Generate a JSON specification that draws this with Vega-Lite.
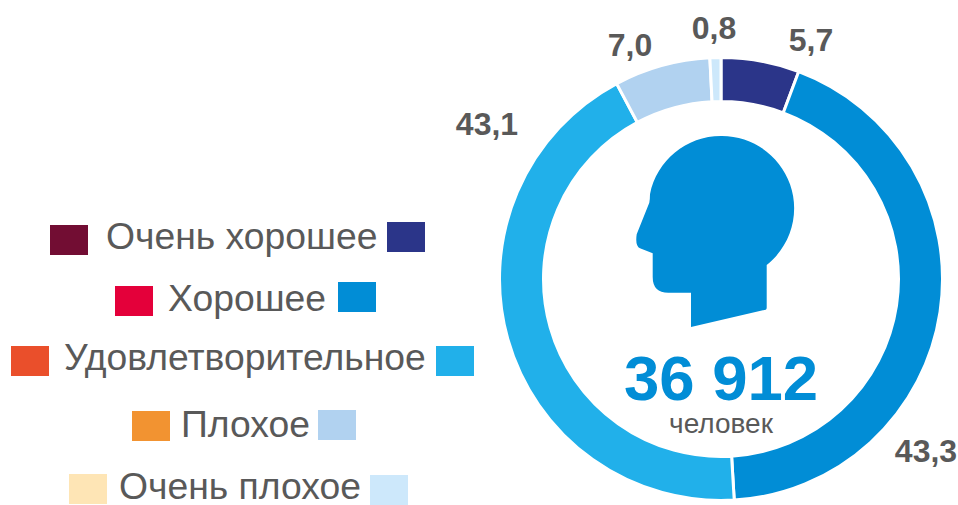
{
"$schema":"https://vega.github.io/schema/vega-lite/v6.json",
"padding":{"left":0,"right":0,"top":13,"bottom":0},
"background":"white",
"config":{"view":{"stroke":null},"font":"Liberation Sans"},
"spacing":0,
"bounds":"flush",
"datasets":{
"ratings":[
{"id":1,"label":"Очень хорошее","value":5.7,"valueText":"5,7"},
{"id":2,"label":"Хорошее","value":43.3,"valueText":"43,3"},
{"id":3,"label":"Удовлетворительное","value":43.1,"valueText":"43,1"},
{"id":4,"label":"Плохое","value":7.0,"valueText":"7,0"},
{"id":5,"label":"Очень плохое","value":0.8,"valueText":"0,8"}],
"total":[{"people":"36 912","unit":"человек"}]
},
"hconcat":[
{"width":484,"height":454,"data":{"name":"ratings"},
"resolve":{"scale":{"x":"independent","y":"independent","color":"independent"},"axis":{"x":"independent","y":"independent"}},
"layer":[
{"mark":{"type":"rect","width":38,"height":30},
"encoding":{
"x":{"field":"id","type":"quantitative","axis":null,"scale":{"domain":[1,2,3,4,5],"range":[69,134,30,151,88],"zero":false,"nice":false}},
"y":{"field":"id","type":"quantitative","axis":null,"scale":{"domain":[1,2,3,4,5],"range":[188,249,309,374,437],"zero":false,"nice":false}},
"color":{"field":"label","type":"nominal","legend":null,"sort":null,"scale":{"domain":["Очень хорошее","Хорошее","Удовлетворительное","Плохое","Очень плохое"],"range":["#720D33","#E4003A","#EA4F2B","#F29331","#FEE5B5"]}}}},
{"mark":{"type":"rect","width":38,"height":30},
"encoding":{
"x":{"field":"id","type":"quantitative","axis":null,"scale":{"domain":[1,2,3,4,5],"range":[406,357,455,337,389],"zero":false,"nice":false}},
"y":{"field":"id","type":"quantitative","axis":null,"scale":{"domain":[1,2,3,4,5],"range":[185,245,309,373,438],"zero":false,"nice":false}},
"color":{"field":"label","type":"nominal","legend":null,"sort":null,"scale":{"domain":["Очень хорошее","Хорошее","Удовлетворительное","Плохое","Очень плохое"],"range":["#2B3589","#018DD6","#21B0EA","#B1D2F0","#CDE8FB"]}}}},
{"mark":{"type":"text","align":"left","baseline":"middle","fontSize":37.3,"color":"#595959","font":"Liberation Sans"},
"encoding":{
"x":{"field":"id","type":"quantitative","axis":null,"scale":{"domain":[1,2,3,4,5],"range":[106,168,64,181,119],"zero":false,"nice":false}},
"y":{"field":"id","type":"quantitative","axis":null,"scale":{"domain":[1,2,3,4,5],"range":[186,248,307,374,436],"zero":false,"nice":false}},
"text":{"field":"label","type":"nominal"}}}
]},
{"width":474,"height":454,
"resolve":{"scale":{"x":"independent","y":"independent","color":"independent"},"axis":{"x":"independent","y":"independent"}},
"layer":[
{"data":{"name":"ratings"},
"mark":{"type":"arc","outerRadius":221.5,"innerRadius":177.5,"stroke":"white","strokeWidth":3},
"encoding":{
"theta":{"field":"value","type":"quantitative","stack":true,"scale":{"domain":[0,99.9]}},
"order":{"field":"id","type":"quantitative"},
"color":{"field":"label","type":"nominal","legend":null,"scale":{"domain":["Очень хорошее","Хорошее","Удовлетворительное","Плохое","Очень плохое"],"range":["#2B3589","#018DD6","#21B0EA","#B1D2F0","#CDE8FB"]}}}},
{"data":{"name":"ratings"},
"mark":{"type":"text","align":"center","baseline":"middle","fontSize":32,"fontWeight":"bold","color":"#595959","font":"Liberation Sans"},
"encoding":{
"x":{"field":"id","type":"quantitative","axis":null,"scale":{"domain":[1,2,3,4,5],"range":[327,442,3,146,230],"zero":false,"nice":false}},
"y":{"field":"id","type":"quantitative","axis":null,"scale":{"domain":[1,2,3,4,5],"range":[-11,400,73,-6,-23],"zero":false,"nice":false}},
"text":{"field":"valueText","type":"nominal"}}},
{"data":{"name":"total"},
"mark":{"type":"point","filled":true,"opacity":1,"size":40000,"strokeWidth":0,"color":"#018DD6",
"shape":"M0.0067,-1.43 A0.723,0.723 0 0 1 0.457,-0.14 L0.457,0.287 Q0.457,0.30 0.447,0.307 L-0.30,0.48 L-0.30,0.137 L-0.527,0.137 Q-0.683,0.137 -0.683,-0.02 L-0.683,-0.257 L-0.81,-0.307 Q-0.86,-0.33 -0.843,-0.447 L-0.717,-0.763 Q-0.71,-0.8 -0.71,-0.847 A0.723,0.723 0 0 1 0.0067,-1.43 Z"},
"encoding":{}},
{"data":{"name":"total"},
"mark":{"type":"text","align":"center","baseline":"middle","fontSize":63.5,"fontWeight":"bold","color":"#018DD6","font":"Liberation Sans","dy":102},
"encoding":{"text":{"field":"people","type":"nominal"}}},
{"data":{"name":"total"},
"mark":{"type":"text","align":"center","baseline":"middle","fontSize":28,"color":"#595959","font":"Liberation Sans","dy":146},
"encoding":{"text":{"field":"unit","type":"nominal"}}}
]}
]
}
